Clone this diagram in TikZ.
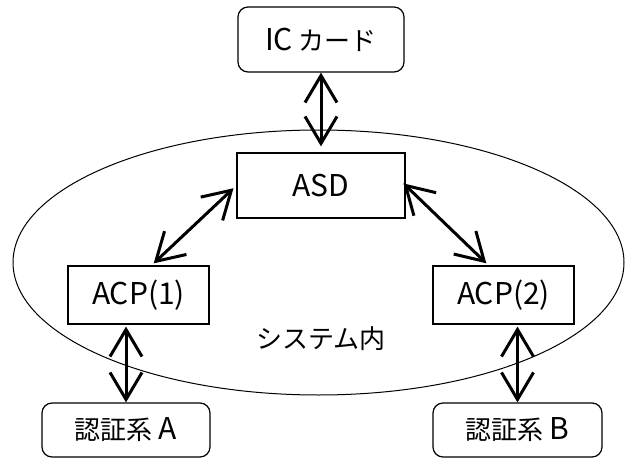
\documentclass[tikz,border=0pt]{standalone}
\usepackage{fontspec}
\setmainfont{Noto Sans CJK JP}
\usetikzlibrary{shapes.geometric, arrows.meta, positioning}

% latin labels are set a bit larger than the kana/kanji
\newcommand\latn[1]{{\fontsize{30}{32}\selectfont #1}}

\begin{document}
\begin{tikzpicture}[x=1pt,y=1pt,on grid,font=\fontsize{26}{30}\selectfont,
		box/.style={draw,line width=1.2pt,inner sep=0pt},
		card/.style={box,rounded corners=10pt},
		link/.style={<->,line width=3pt,>={Straight Barb[length=27pt,width=32pt]}}]
		\useasboundingbox (0,0) rectangle (627,459);
		\node[ellipse,draw,line width=1pt,minimum width=611pt,minimum height=265pt,inner sep=0pt] (sys) at (318.5,196.5) {};
		\node[box,minimum width=168pt,minimum height=65pt] (asd) at (321,273.5) {\latn{ASD}};
		\node[card,minimum width=166pt,minimum height=65pt] (ic) [above=146pt of asd] {\latn{IC} カード};
		\node[box,minimum width=141pt,minimum height=58pt] (acpa) [below left=109.5pt and 182.5pt of asd] {\latn{ACP(1)}};
		\node[box,minimum width=141pt,minimum height=58pt] (acpb) [right=365pt of acpa] {\latn{ACP(2)}};
		\node[card,minimum width=168pt,minimum height=54pt] (autha) [below left=135pt and 12.5pt of acpa] {認証系 \latn{A}};
		\node[card,minimum width=169pt,minimum height=54pt] (authb) [below right=135pt and 14pt of acpb] {認証系 \latn{B}};
		\node (syslabel) [below=153.5pt of asd] {システム内};
		\draw[link,shorten >=6pt] (ic) -- (asd);
		\draw[link,shorten <=4pt,shorten >=3pt] (asd.west) -- ([xshift=13pt]acpa.north);
		\draw[link,shorten <=-3pt,shorten >=3pt] (asd.east) -- ([xshift=-15pt]acpb.north);
		\draw[link,shorten <=2pt] (acpa.south -| autha.north) -- (autha.north);
		\draw[link,shorten <=2pt] (acpb.south -| authb.north) -- (authb.north);
	\end{tikzpicture}
\end{document}
